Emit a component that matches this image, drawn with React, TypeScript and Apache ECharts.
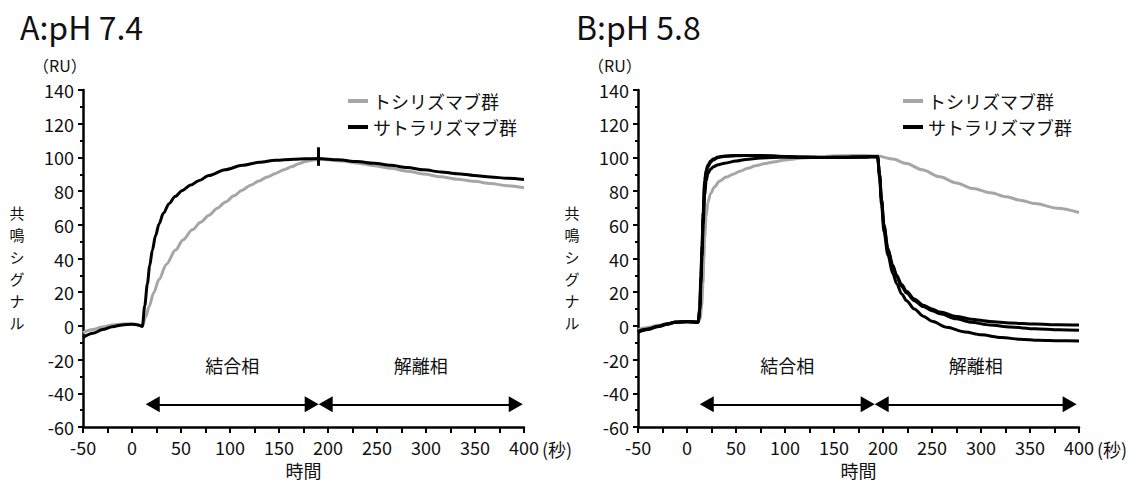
import React, { useEffect, useRef } from "react";
import * as echarts from "echarts";

const FONT = "'Noto Sans CJK JP', 'Noto Sans', sans-serif";

const panelTitles = ["A:pH 7.4", "B:pH 5.8"];
const seriesNames = ["トシリズマブ群", "サトラリズマブ群"];
const yAxisTitle = "共鳴シグナル";
const yUnit = "（RU）";
const xAxisTitle = "時間";
const xUnit = "(秒)";
const phaseLabels = ["結合相", "解離相"];

const GRAY = "#a6a6a6";
const BLACK = "#000000";

// Sensorgrams at pH 7.4: [time (s), response (RU)]
const tocilizumabA: number[][] = [
  [-50, -4.0], [-40, -2.2], [-30, -0.6], [-20, 0.6], [-10, 1.2], [0, 1.2], [6, 0.7],
  [10.6, 0], [14, 5.5], [17.5, 11.5], [22, 19.5], [27.5, 27.5], [35, 36.5], [44.5, 45],
  [52, 51], [61.5, 57], [70, 61.5], [78.5, 65.7], [87, 69.8], [95.5, 73.6], [104, 77.2],
  [112.5, 80.5], [121, 83.5], [129.5, 86], [138, 88.4], [146.5, 90.5], [155, 92.7],
  [163.5, 94.6], [170, 96.2], [177, 97.6], [185, 98.5], [190.5, 98.8], [200, 98.6],
  [215, 97.8], [230, 96.6], [247, 95.1], [264, 93.5], [281, 91.8], [298, 90.1],
  [315, 88.5], [332, 87.1], [349, 85.8], [366, 84.5], [383, 83.2], [400, 82.0],
];
const satralizumabA: number[][] = [
  [-50, -7.0], [-40, -4.4], [-30, -2.2], [-20, -0.5], [-10, 0.6], [0, 1.0], [6, 0.6],
  [10.6, -0.3], [13, 12], [15.7, 25], [18, 35.5], [20.8, 45], [24, 53.5], [27.6, 60.5],
  [32, 66.8], [37.8, 72.5], [44, 76.8], [51.4, 80.4], [60, 83.6], [68, 86.2], [78.6, 89.2],
  [95, 92.7], [112.7, 95.3], [130, 97.1], [146.6, 98.3], [165, 98.9], [177, 99.2],
  [190.5, 99.3], [210, 98.6], [230, 97.5], [247, 96.5], [264, 95.3], [281, 94],
  [298, 92.6], [315, 91.4], [332, 90.3], [349, 89.3], [366, 88.4], [383, 87.6], [400, 86.9],
];

// Sensorgrams at pH 5.8
const tocilizumabB: number[][] = [
  [-50, -2.3], [-40, -1.0], [-30, 0.3], [-20, 1.4], [-12, 2.1], [0, 2.4], [11, 2.3],
  [13.5, 4], [15, 12], [16.3, 25], [17.2, 40], [18, 52], [19.5, 65], [21.4, 73.5],
  [24, 78.5], [28, 82.5], [33, 85.8], [40, 88.3], [47, 90], [54, 91.8], [62, 93.5],
  [70, 95], [80, 96.4], [88, 97.3], [100, 98.5], [122, 99.8], [140, 100.6], [156, 101],
  [180, 101.2], [195, 100.8], [210, 99], [224, 96.4], [240, 92.6], [258, 88.5],
  [275, 84.8], [292, 81.5], [310, 79], [326, 76.6], [340, 74.6], [355, 72.6],
  [378, 69.8], [400, 67.3],
];
const satralizumabB1: number[][] = [
  [-50, -3.5], [-40, -2.0], [-30, -0.4], [-20, 1.1], [-12, 2.2], [0, 2.5], [11.5, 2.2],
  [13, 10], [14.2, 28], [15.3, 45], [16.5, 65], [18, 84], [19.5, 91], [21.4, 94.5],
  [24, 97], [26.5, 98.5], [32, 100], [38.5, 100.6], [50, 101], [65, 101.2], [80, 101],
  [100, 100.6], [120, 100.2], [140, 100], [160, 100.1], [180, 100.3], [194.5, 100.5],
  [196.5, 90], [198.5, 75], [201, 60], [205, 46], [210, 36], [214, 30], [219, 24.5],
  [224, 20.5], [232, 16], [241, 12.3], [250, 10], [258, 8.3], [275, 5.6], [290, 4],
  [309, 2.6], [330, 1.7], [355, 1.1], [380, 0.7], [400, 0.5],
];
const satralizumabB2: number[][] = [
  [-50, -3.2], [-40, -1.8], [-30, -0.2], [-20, 1.2], [-12, 2.3], [0, 2.6], [11.5, 2.3],
  [13, 9], [14.2, 25], [15.3, 41], [16.5, 60], [18, 77], [19.5, 86], [21.4, 90.5],
  [24, 93], [27, 94.5], [32, 95.7], [38.5, 96.6], [50, 97.8], [60, 98.8], [75, 99.6],
  [100, 100.2], [120, 100.1], [140, 100], [160, 100.1], [180, 100.3], [194.5, 100.5],
  [196.5, 90], [198.5, 75], [201, 59], [205, 45], [210, 35], [214, 29], [219, 23.5],
  [224, 19.5], [232, 15], [241, 11.5], [250, 9], [258, 7.2], [275, 4.2], [290, 2.2],
  [309, 0.5], [330, -0.7], [355, -1.7], [380, -2.3], [400, -2.6],
];
const satralizumabB3: number[][] = [
  [-50, -3.8], [-40, -2.2], [-30, -0.5], [-20, 1.0], [-12, 2.1], [0, 2.4], [11.5, 2.1],
  [13, 11], [14.2, 30], [15.3, 48], [16.5, 68], [18, 86], [19.5, 92.5], [21.4, 95.5],
  [24, 97.8], [26.5, 99], [32, 100.3], [38.5, 100.8], [50, 101.1], [65, 101.2], [80, 101],
  [100, 100.5], [120, 100.1], [140, 99.9], [160, 100], [180, 100.3], [194.5, 100.5],
  [196.5, 88], [198.5, 72], [201, 56], [205, 42], [210, 31], [214, 25], [219, 19],
  [224, 15], [232, 10], [241, 5.8], [250, 2.8], [265, -0.8], [283.6, -3.6], [300, -5.3],
  [321, -6.9], [340, -7.9], [358.7, -8.5], [380, -8.8], [400, -8.9],
];

// Phase arrows: [start, boundary, end] in seconds, and their level in RU
const phaseBoundsA = [14, 190.5, 398.7];
const phaseBoundsB = [13, 191.5, 397.6];
const arrowLevel = -46.5;
// Vertical mark at the end of injection (pH 7.4): [time, low RU, high RU]
const injectionEndMarkA = [190.5, 95, 106];

const X_MIN = -50;
const X_MAX = 400;
const Y_MIN = -60;
const Y_MAX = 140;

const GRID_TOP = 90;
const GRID_HEIGHT = 337;
const GRID_WIDTH = 441;
const GRID_LEFTS = [83, 638];
const ARROW_HALF = 7; // px, half the arrow-head length

export default function App() {
  const ref = useRef<HTMLDivElement>(null);

  useEffect(() => {
    if (!ref.current) return;
    const chart = echarts.init(ref.current, undefined, { renderer: "svg" });

    const inset = (ARROW_HALF * (X_MAX - X_MIN)) / GRID_WIDTH;

    const phaseArrows = (b: number[]) => [
      [
        { name: phaseLabels[0], coord: [b[0] + inset, arrowLevel] },
        { coord: [b[1] - inset, arrowLevel] },
      ],
      [
        { name: phaseLabels[1], coord: [b[1] + inset, arrowLevel] },
        { coord: [b[2] - inset, arrowLevel] },
      ],
    ];

    const markLineBase = (data: any[]) => ({
      silent: true,
      animation: false,
      symbol: ["triangle", "triangle"],
      symbolSize: [16, 14],
      lineStyle: { color: BLACK, width: 2, type: "solid" },
      emphasis: { disabled: true },
      label: {
        show: true,
        position: "insideMiddleTop",
        formatter: "{b}",
        distance: 30,
        color: "#111",
        fontSize: 18,
        fontFamily: FONT,
      },
      data,
    });

    const axisText = { color: "#111", fontSize: 18, fontFamily: FONT };

    const xAxes = [0, 1].map((i) => ({
      type: "value",
      gridIndex: i,
      min: X_MIN,
      max: X_MAX,
      interval: 50,
      name: xAxisTitle,
      nameLocation: "middle",
      nameGap: 33,
      nameTextStyle: axisText,
      axisLine: { show: true, onZero: false, lineStyle: { color: BLACK, width: 2.5 } },
      axisTick: { show: true, length: 6, lineStyle: { color: BLACK, width: 2 } },
      minorTick: { show: true, splitNumber: 2, length: 6, lineStyle: { color: BLACK, width: 2 } },
      splitLine: { show: false },
      minorSplitLine: { show: false },
      axisLabel: { ...axisText, margin: 11 },
    }));

    const yAxes = [0, 1].map((i) => ({
      type: "value",
      gridIndex: i,
      min: Y_MIN,
      max: Y_MAX,
      interval: 20,
      axisLine: { show: true, onZero: false, lineStyle: { color: BLACK, width: 2.5 } },
      axisTick: { show: true, length: 5, lineStyle: { color: BLACK, width: 2 } },
      minorTick: { show: true, splitNumber: 2, length: 3, lineStyle: { color: BLACK, width: 2 } },
      splitLine: { show: false },
      minorSplitLine: { show: false },
      axisLabel: { ...axisText, margin: 9 },
    }));

    const lineSeries = (name: string, data: number[][], grid: number, color: string, extra: any = {}) => ({
      type: "line",
      name,
      xAxisIndex: grid,
      yAxisIndex: grid,
      data,
      color,
      showSymbol: false,
      symbol: "none",
      smooth: 0.3,
      smoothMonotone: "x",
      lineStyle: { color, width: 3 },
      itemStyle: { color },
      emphasis: { disabled: true },
      z: color === GRAY ? 2 : 3,
      ...extra,
    });

    const markA = markLineBase([
      ...phaseArrows(phaseBoundsA),
      [
        {
          coord: [injectionEndMarkA[0], injectionEndMarkA[1]],
          symbol: "none",
          lineStyle: { width: 3 },
          label: { show: false },
        },
        { coord: [injectionEndMarkA[0], injectionEndMarkA[2]], symbol: "none" },
      ],
    ]);
    const markB = markLineBase(phaseArrows(phaseBoundsB));

    const legendBase = (left: number) => ({
      left,
      top: 92,
      orient: "vertical",
      padding: 0,
      itemGap: 8,
      itemWidth: 20,
      itemHeight: 4,
      icon: "rect",
      selectedMode: false,
      data: seriesNames,
      textStyle: { color: "#111", fontSize: 18, lineHeight: 18, fontFamily: FONT },
    });

    // Vertical axis title: one glyph per text element, stacked top to bottom
    const titleChars = yAxisTitle.split("");
    const CHAR_PITCH = 22;
    const titleCenterY = 267;

    const graphic: any[] = [];
    [0, 1].forEach((i) => {
      const gl = GRID_LEFTS[i];
      graphic.push(
        {
          type: "text",
          left: i === 0 ? 20 : 576,
          top: 10,
          style: { text: panelTitles[i], fontSize: 32, fontFamily: FONT, fill: "#111" },
        },
        {
          type: "text",
          x: gl - 50,
          y: 65,
          style: { text: yUnit, fontSize: 16, fontFamily: FONT, fill: "#111", verticalAlign: "middle" },
        },
        {
          type: "text",
          x: gl + GRID_WIDTH + 18,
          y: 449,
          style: { text: xUnit, fontSize: 18, fontFamily: FONT, fill: "#111", verticalAlign: "middle" },
        }
      );
      titleChars.forEach((ch, k) => {
        graphic.push({
          type: "text",
          x: gl - 66,
          y: titleCenterY + (k - (titleChars.length - 1) / 2) * CHAR_PITCH,
          style: {
            text: ch,
            fontSize: 15,
            fontFamily: FONT,
            fill: "#111",
            align: "center",
            verticalAlign: "middle",
          },
        });
      });
    });

    chart.setOption({
      animation: false,
      backgroundColor: "#ffffff",
      textStyle: { fontFamily: FONT },
      grid: GRID_LEFTS.map((left) => ({
        left,
        top: GRID_TOP,
        width: GRID_WIDTH,
        height: GRID_HEIGHT,
        containLabel: false,
      })),
      xAxis: xAxes,
      yAxis: yAxes,
      legend: [legendBase(348), legendBase(903)],
      series: [
        lineSeries(seriesNames[0], tocilizumabA, 0, GRAY, { markLine: markA }),
        lineSeries(seriesNames[1], satralizumabA, 0, BLACK),
        lineSeries(seriesNames[0], tocilizumabB, 1, GRAY, { markLine: markB }),
        lineSeries(seriesNames[1], satralizumabB1, 1, BLACK),
        lineSeries(seriesNames[1], satralizumabB2, 1, BLACK),
        lineSeries(seriesNames[1], satralizumabB3, 1, BLACK),
      ],
      graphic,
    });

    return () => chart.dispose();
  }, []);

  return (
    <div
      ref={ref}
      style={{ position: "absolute", left: 0, top: 0, width: 1137, height: 486, background: "#fff" }}
    />
  );
}
